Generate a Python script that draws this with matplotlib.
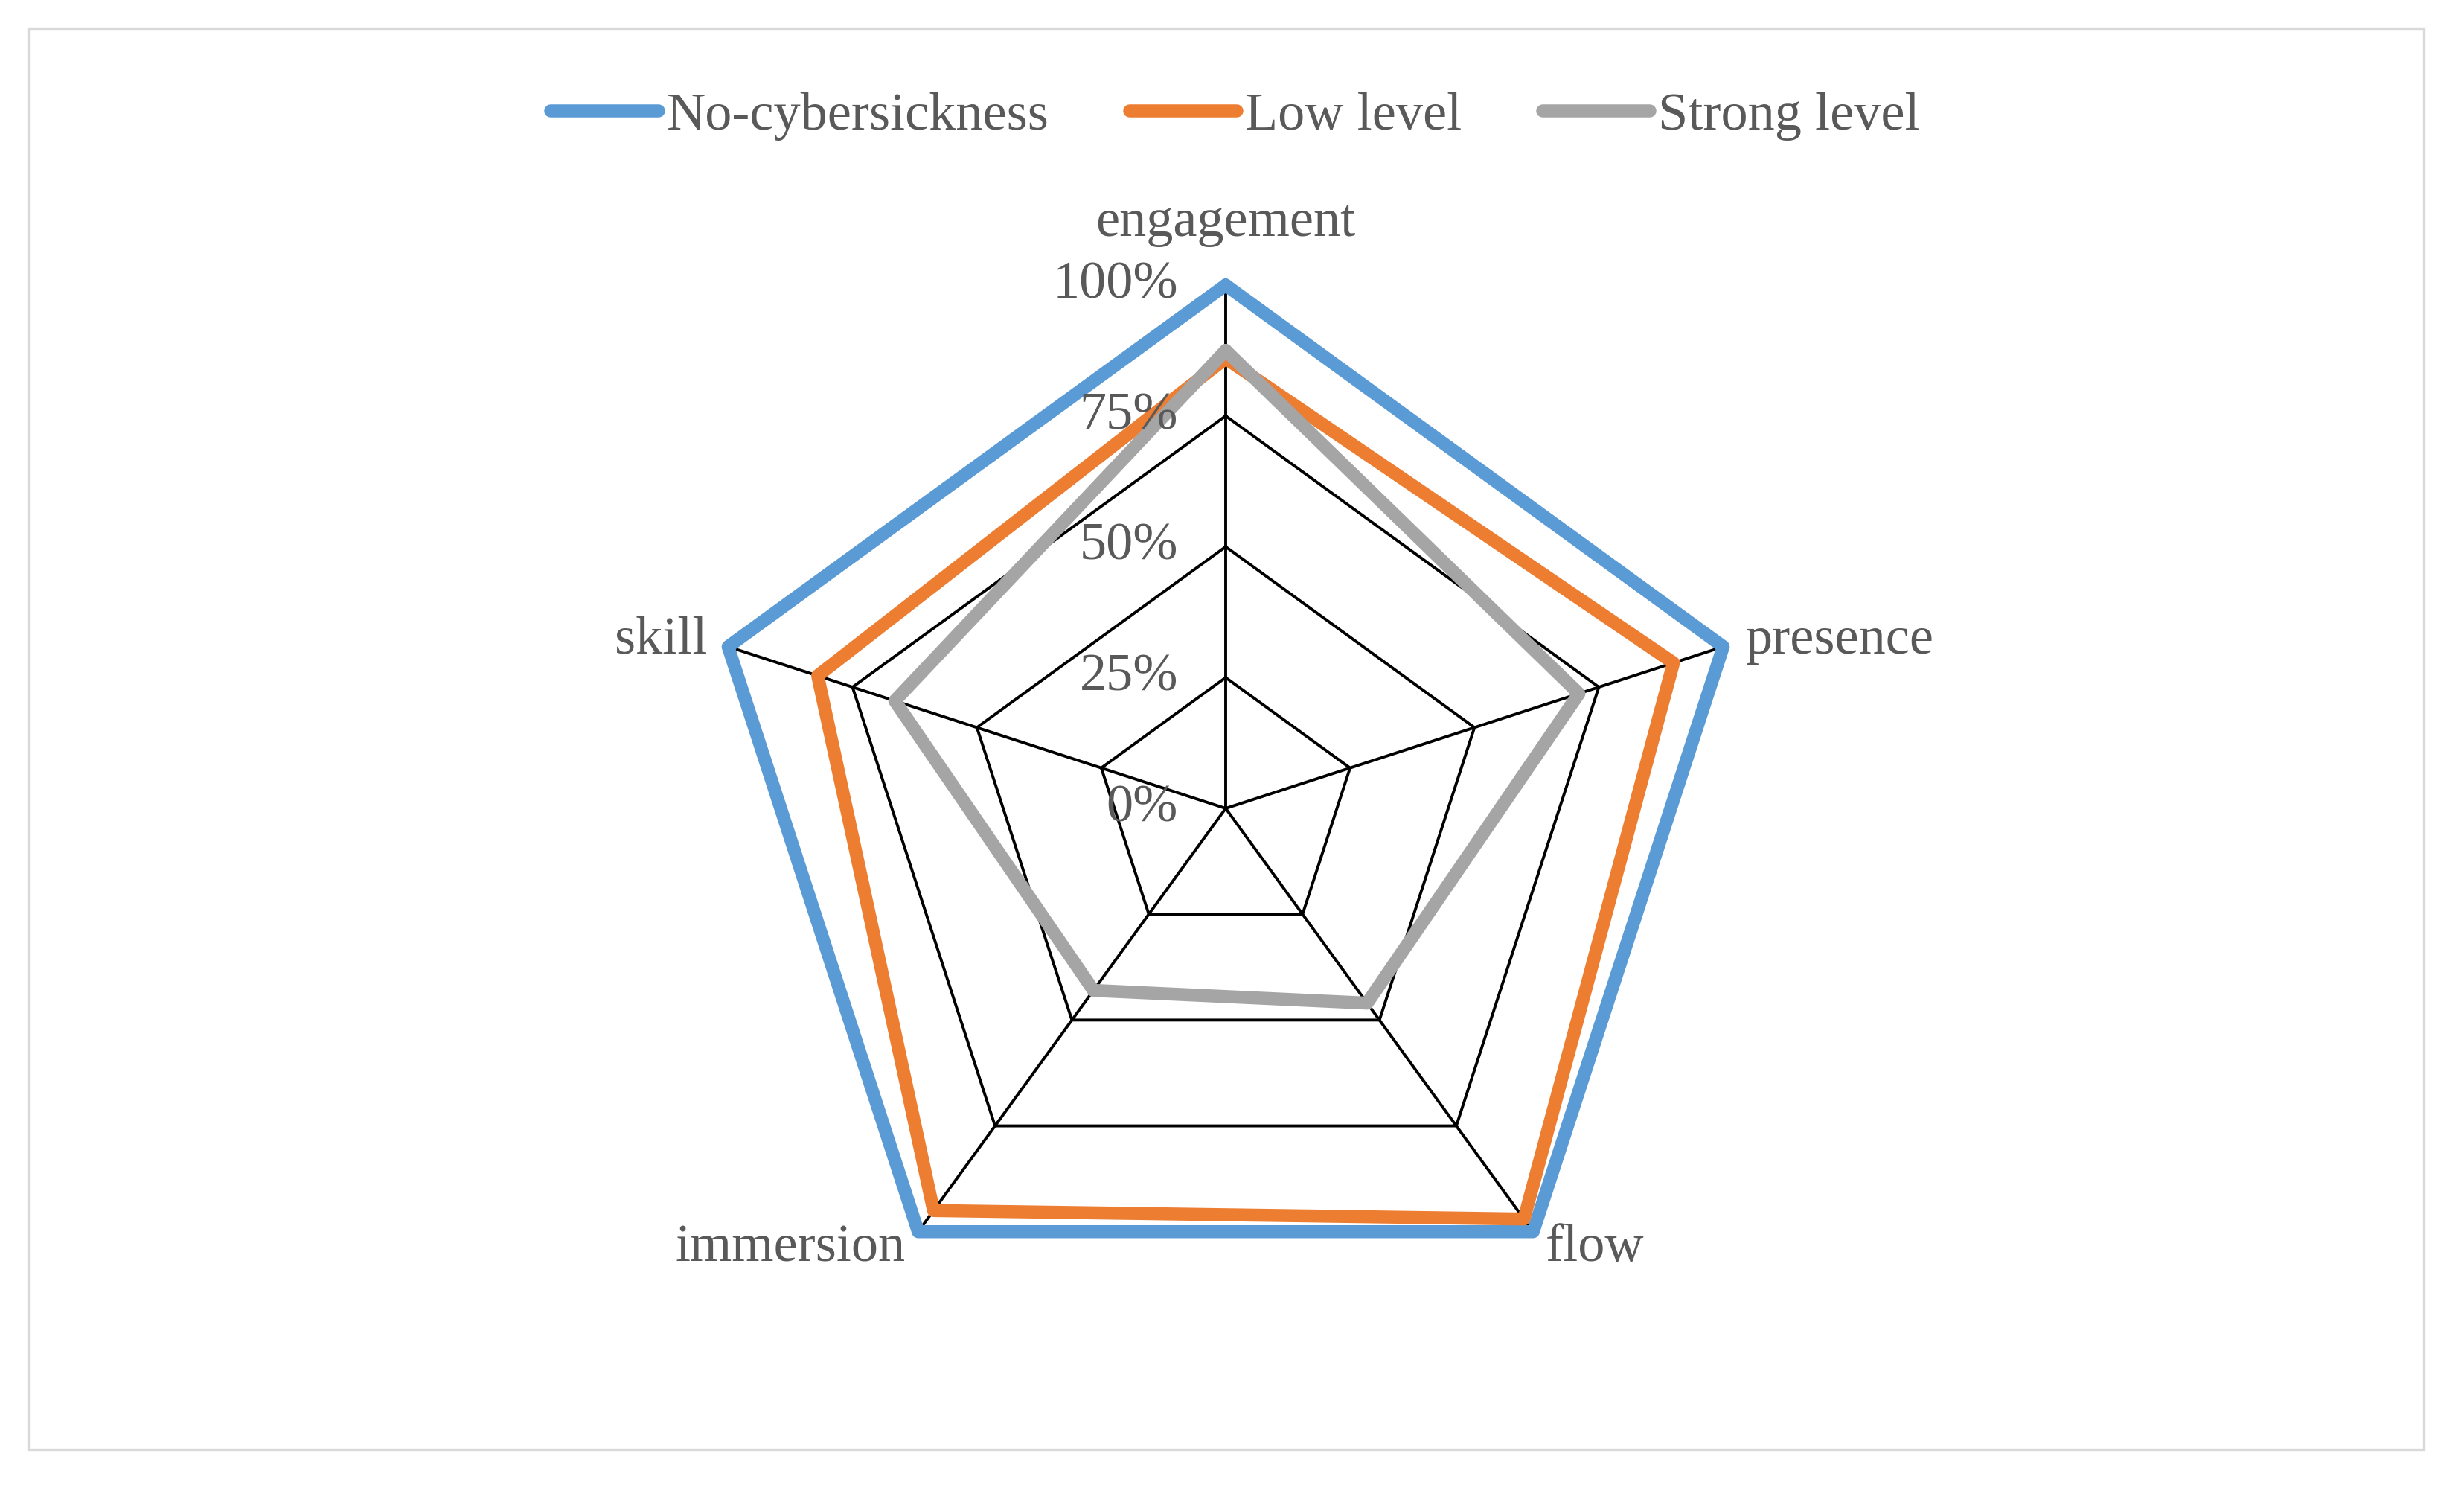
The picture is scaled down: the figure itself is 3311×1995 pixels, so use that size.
import matplotlib
matplotlib.use('Agg')
import matplotlib.pyplot as plt
from matplotlib.patches import Rectangle
from matplotlib.lines import Line2D
import numpy as np

categories = ['engagement', 'presence', 'flow', 'immersion', 'skill']
no_cyber = [1.00, 1.00, 1.00, 1.00, 1.00]
low_level = [0.86, 0.90, 0.97, 0.95, 0.82]
strong_level = [0.875, 0.71, 0.46, 0.43, 0.665]
ticks = [0.0, 0.25, 0.5, 0.75, 1.0]
tick_labels = ['0%', '25%', '50%', '75%', '100%']
series_names = ['No-cybersickness', 'Low level', 'Strong level']
colors = ['#5B9BD5', '#ED7D31', '#A5A5A5']

FONT = ['Liberation Serif', 'DejaVu Serif']
TXT = '#595959'
FS = 26

W, H = 3312, 1995
fig = plt.figure(figsize=(W / 200, H / 200), dpi=200)

# outer border
fig.patches.append(Rectangle((38 / W, 1 - 1947 / H), (3257 - 38) / W, (1947 - 38) / H,
                             transform=fig.transFigure, fill=False,
                             edgecolor='#D9D9D9', lw=1.2))

cx, cy, R = 1647, 1086, 703
ax = fig.add_axes([(cx - R) / W, 1 - (cy + R) / H, 2 * R / W, 2 * R / H], projection='polar')
ax.set_theta_offset(np.pi / 2)
ax.set_theta_direction(-1)
ax.set_ylim(0, 1)
ax.grid(False)
ax.spines['polar'].set_visible(False)
ax.set_xticks([])
ax.set_yticks([])
ax.patch.set_alpha(0)

angles = np.linspace(0, 2 * np.pi, len(categories), endpoint=False)
closed = np.concatenate([angles, angles[:1]])

# grid rings and spokes
for t in ticks[1:]:
    ax.plot(closed, [t] * len(closed), color='black', lw=1.4, zorder=1, clip_on=False)
for a in angles:
    ax.plot([a, a], [0, 1], color='black', lw=1.4, zorder=1, clip_on=False)

# series
for i, (vals, c) in enumerate(zip([no_cyber, low_level, strong_level], colors)):
    v = list(vals) + [vals[0]]
    ax.plot(closed, v, color=c, lw=6.3, zorder=2 + i, clip_on=False,
            solid_joinstyle='round', solid_capstyle='round')

# tick labels
for t, lab in zip(ticks, tick_labels):
    ax.annotate(lab, xy=(0, t), xytext=(-23, 0), textcoords='offset points',
                ha='right', va='center', fontsize=FS, color=TXT, family=FONT,
                annotation_clip=False, zorder=6)

# category labels
offsets = {
    'engagement': ((0, 30), 'center', 'center'),
    'presence': ((11, 3), 'left', 'center'),
    'flow': ((6, -8), 'left', 'center'),
    'immersion': ((-6, -8), 'right', 'center'),
    'skill': ((-10, 3), 'right', 'center'),
}
for a, cat in zip(angles, categories):
    off, ha, va = offsets[cat]
    ax.annotate(cat, xy=(a, 1.0), xytext=off, textcoords='offset points',
                ha=ha, va=va, fontsize=FS, color=TXT, family=FONT,
                annotation_clip=False)

handles = [Line2D([0], [0], color=c, lw=6.3, solid_capstyle='round') for c in colors]
fig.legend(handles, series_names, loc='center', bbox_to_anchor=(1660 / W, 1 - 156 / H),
           ncol=3, frameon=False, handlelength=2.0, handletextpad=0.15,
           columnspacing=1.5, prop={'family': FONT, 'size': FS}, labelcolor=TXT)

fig.savefig('out.png', dpi=200, facecolor='white')
